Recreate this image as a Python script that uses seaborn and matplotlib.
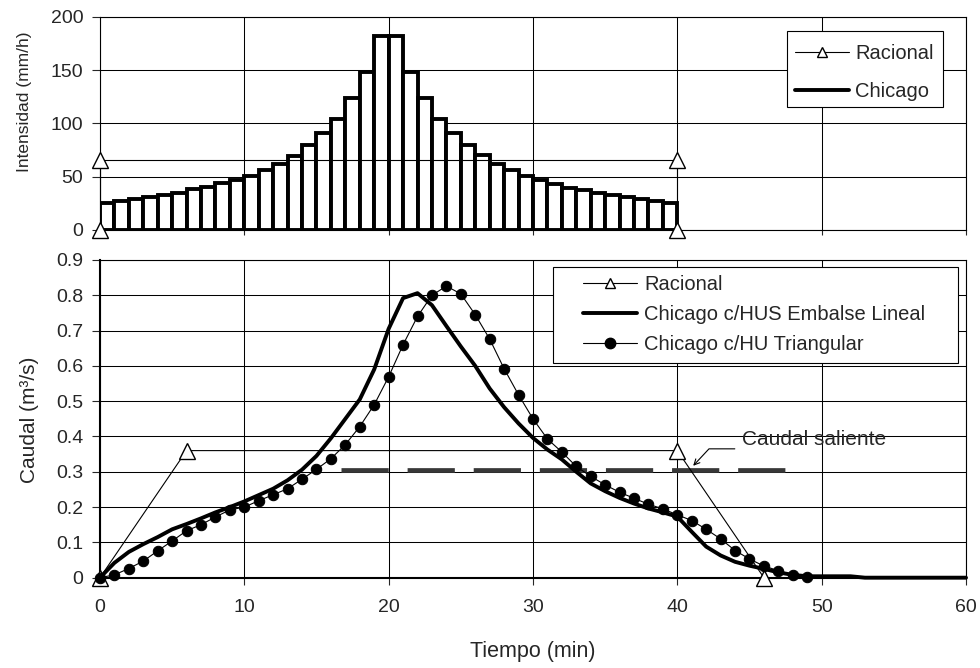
import numpy as np
import matplotlib
matplotlib.use("Agg")
import matplotlib.pyplot as plt
from matplotlib.lines import Line2D
from matplotlib.patches import Rectangle
import seaborn as sns

# Hietograma Chicago (mm/h), bloques de 1 min entre 0 y 40 min
t_hiet = list(range(40))
chicago_int = [25.2, 26.8, 29.0, 30.9, 32.4, 34.6, 38.4, 40.0, 44.1, 47.2,
               51.0, 56.7, 62.4, 69.9, 79.7, 90.7, 103.9, 123.5, 148.0, 181.7,
               181.7, 148.0, 123.5, 104.6, 90.7, 79.7, 70.0, 62.4, 56.7, 51.0,
               47.0, 43.5, 39.4, 37.8, 34.6, 32.4, 30.9, 29.0, 27.0, 25.2]

# Lluvia del metodo racional
rac_int_t = [0, 0, 40, 40]
rac_int = [0, 66, 66, 0]

# Hidrogramas (m3/s)
rac_q_t = [0, 6, 40, 46]
rac_q = [0, 0.36, 0.36, 0]

t_hus = list(range(61))
q_hus = [0, 0.042, 0.073, 0.095, 0.115, 0.137, 0.152, 0.168, 0.185, 0.200,
         0.216, 0.234, 0.252, 0.276, 0.306, 0.345, 0.395, 0.450, 0.505, 0.590,
         0.705, 0.792, 0.806, 0.772, 0.713, 0.655, 0.600, 0.536, 0.483, 0.437,
         0.396, 0.363, 0.335, 0.300, 0.267, 0.245, 0.226, 0.210, 0.196, 0.185,
         0.173, 0.130, 0.088, 0.063, 0.045, 0.034, 0.025, 0.015, 0.008, 0.004,
         0.004, 0.004, 0.004, 0, 0, 0, 0, 0, 0, 0, 0]

t_tri = list(range(50))
q_tri = [0, 0.008, 0.026, 0.047, 0.076, 0.104, 0.133, 0.150, 0.172, 0.192,
         0.200, 0.218, 0.235, 0.252, 0.279, 0.307, 0.337, 0.377, 0.428, 0.490,
         0.569, 0.660, 0.740, 0.800, 0.826, 0.804, 0.745, 0.676, 0.592, 0.518,
         0.450, 0.393, 0.356, 0.315, 0.287, 0.263, 0.242, 0.225, 0.208, 0.195,
         0.178, 0.162, 0.137, 0.110, 0.077, 0.053, 0.033, 0.020, 0.008, 0.002]

# Caudal saliente del embalse
sal_t = [16.7, 47.45]
sal_q = [0.305, 0.305]

x_ticks = [0, 10, 20, 30, 40, 50, 60]
int_ticks = [0, 50, 100, 150, 200]
q_ticks = [0, 0.1, 0.2, 0.3, 0.4, 0.5, 0.6, 0.7, 0.8, 0.9]
q_ticklabels = ["0", "0.1", "0.2", "0.3", "0.4", "0.5", "0.6", "0.7", "0.8", "0.9"]

sns.set_style("white")
plt.rcParams['font.family'] = ['Liberation Sans', 'DejaVu Sans']
plt.rcParams['font.size'] = 14

fig = plt.figure(figsize=(9.8, 6.68), dpi=100)
ax1 = fig.add_axes([0.102, 0.6557, 0.8837, 0.3189])
ax2 = fig.add_axes([0.102, 0.1352, 0.8837, 0.4756])

for ax in (ax1, ax2):
    ax.set_axisbelow(True)
    ax.grid(True, color='black', linewidth=0.75)
    ax.set_xlim(0, 60)
    ax.set_xticks(x_ticks)
    for s in ax.spines.values():
        s.set_color('black')
        s.set_linewidth(0.8)


def boxed_legend(ax, handles, labels, handle_xy, box, spacing, textpad):
    # caja del estilo de Excel: mas margen a los lados que arriba y abajo
    x0, y0, x1, y1 = box
    ax.add_patch(Rectangle((x0, y0), x1 - x0, y1 - y0, transform=ax.transAxes,
                           facecolor='white', edgecolor='black', linewidth=0.8,
                           zorder=6, clip_on=False))
    leg = ax.legend(handles, labels, loc='upper left', bbox_to_anchor=handle_xy,
                    borderaxespad=0, borderpad=0, frameon=False, fontsize=14.5,
                    handlelength=2.7, labelspacing=spacing, handletextpad=textpad)
    leg.set_zorder(7)
    return leg


# --- Intensidad ---
ax1.bar(t_hiet, chicago_int, width=1, align='edge', facecolor='white',
        edgecolor='black', linewidth=2.8, zorder=2)
sns.lineplot(x=rac_int_t, y=rac_int, ax=ax1, color='black', linewidth=0.8,
             marker='^', markersize=11, markerfacecolor='white',
             markeredgecolor='black', markeredgewidth=1.0,
             sort=False, estimator=None, zorder=4, clip_on=False)
ax1.set_ylim(0, 200)
ax1.set_yticks(int_ticks)
ax1.set_xticklabels([])
ax1.tick_params(axis='x', direction='out', length=3.5, width=0.8, bottom=True)
ax1.tick_params(axis='y', direction='out', length=6, width=0.8, left=True, pad=6)
ax1.set_ylabel("Intensidad (mm/h)", fontsize=12.5)
ax1.yaxis.set_label_coords(-0.0785, 0.604)
ax1.set_xlabel("")

h_top = [Line2D([], [], color='black', linewidth=0.8, marker='^', markersize=7,
                markerfacecolor='white', markeredgecolor='black'),
         Line2D([], [], color='black', linewidth=2.8)]
boxed_legend(ax1, h_top, ["Racional", "Chicago"], (0.8025, 0.873),
             (0.7933, 0.5755, 0.9734, 0.934), 0.95, 0.3)

# --- Caudal ---
sns.lineplot(x=sal_t, y=sal_q, ax=ax2, color='#383838', linewidth=3.4,
             dashes=False, sort=False, estimator=None, zorder=2)
ax2.lines[-1].set_dashes((10.0, 4.0))
sns.lineplot(x=rac_q_t, y=rac_q, ax=ax2, color='black', linewidth=0.8,
             marker='^', markersize=11, markerfacecolor='white',
             markeredgecolor='black', markeredgewidth=1.0,
             sort=False, estimator=None, zorder=3, clip_on=False)
sns.lineplot(x=t_hus, y=q_hus, ax=ax2, color='black', linewidth=2.8,
             sort=False, estimator=None, zorder=4, clip_on=False)
sns.lineplot(x=t_tri, y=q_tri, ax=ax2, color='black', linewidth=0.8,
             marker='o', markersize=7.5, markerfacecolor='black',
             markeredgecolor='black', sort=False, estimator=None, zorder=5,
             clip_on=False)

ax2.annotate("Caudal saliente", xy=(41.1, 0.317), xytext=(44.5, 0.365),
             ha='left', va='bottom', fontsize=15,
             arrowprops=dict(arrowstyle='->', connectionstyle='angle,angleA=0,angleB=47',
                             relpos=(0, 0), shrinkA=3, shrinkB=0, color='black',
                             linewidth=0.8, mutation_scale=10))

ax2.set_ylim(0, 0.9)
ax2.set_yticks(q_ticks)
ax2.set_yticklabels(q_ticklabels)
ax2.tick_params(axis='x', direction='out', length=5, width=0.8, bottom=True, pad=10)
ax2.tick_params(axis='y', direction='out', length=6, width=0.8, left=True, pad=6)
ax2.spines['left'].set_linewidth(1.5)
ax2.spines['bottom'].set_linewidth(1.5)
ax2.set_ylabel("Caudal (m³/s)", fontsize=15)
ax2.yaxis.set_label_coords(-0.0704, 0.496)
ax2.set_xlabel("Tiempo (min)", fontsize=15.5)
ax2.xaxis.set_label_coords(0.5, -0.199)

h_bot = [Line2D([], [], color='black', linewidth=0.8, marker='^', markersize=7,
                markerfacecolor='white', markeredgecolor='black'),
         Line2D([], [], color='black', linewidth=2.8),
         Line2D([], [], color='black', linewidth=0.8, marker='o', markersize=7.5,
                markerfacecolor='black')]
boxed_legend(ax2, h_bot, ["Racional", "Chicago c/HUS Embalse Lineal",
                          "Chicago c/HU Triangular"], (0.5577, 0.953),
             (0.523, 0.676, 0.9908, 0.978), 0.55, 0.35)

fig.savefig("out.png", dpi=100)
